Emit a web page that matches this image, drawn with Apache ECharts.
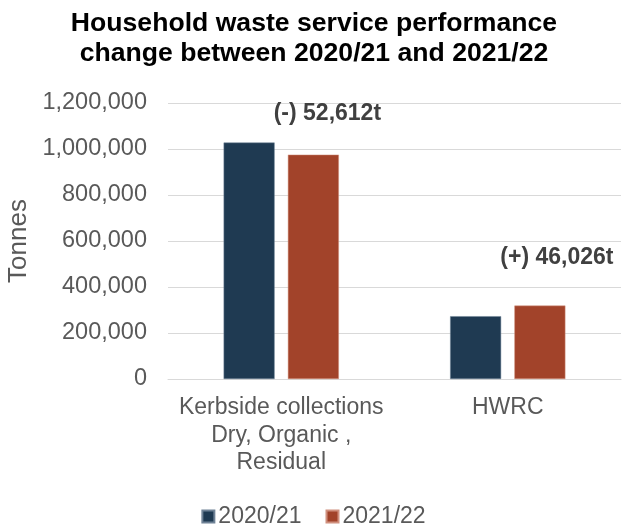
<!DOCTYPE html>
<html>
<head>
<meta charset="utf-8">
<script src="https://cdn.jsdelivr.net/npm/echarts@6/dist/echarts.min.js"></script>
<style>html,body{margin:0;padding:0;background:#fff;}#chart{width:627px;height:527px;}</style>
</head>
<body>
<div id="chart"></div>
<script>
const categories = ['Kerbside collections\nDry, Organic ,\nResidual', 'HWRC'];
const seriesNames = ['2020/21', '2021/22'];
const values2020 = [1028000, 273000];
const values2021 = [975388, 319026];
const changeLabels = ['(-) 52,612t', '(+) 46,026t'];
const yTicks = { min: 0, max: 1200000, interval: 200000 };

const FONT = '"Liberation Sans", Arial, sans-serif';
const labelOffsets = [[14, -25], [17, -31]];

const chart = echarts.init(document.getElementById('chart'));
chart.setOption({
  animation: false,
  textStyle: { fontFamily: FONT },
  title: {
    text: 'Household waste service performance\nchange between 2020/21 and 2021/22',
    left: 309,
    textAlign: 'center',
    top: 4,
    textStyle: { fontFamily: FONT, fontSize: 26.6, fontWeight: 'bold', color: '#000', lineHeight: 30 }
  },
  grid: { left: 168, right: 6, top: 103, bottom: 148, containLabel: false, outerBoundsMode: 'none' },
  legend: {
    data: seriesNames,
    left: 'center',
    top: 500,
    icon: 'rect',
    itemWidth: 12,
    itemHeight: 12,
    itemGap: 24,
    textStyle: { fontFamily: FONT, fontSize: 23, color: '#595959', padding: [0, 0, 0, -1] }
  },
  xAxis: {
    type: 'category',
    data: categories,
    axisLine: { lineStyle: { color: '#D9D9D9', width: 1 } },
    axisTick: { show: false },
    axisLabel: { fontFamily: FONT, fontSize: 23, color: '#595959', lineHeight: 27.5, margin: 15, interval: 0 }
  },
  yAxis: {
    type: 'value',
    min: yTicks.min,
    max: yTicks.max,
    interval: yTicks.interval,
    name: 'Tonnes',
    nameLocation: 'middle',
    nameGap: 136,
    nameTextStyle: { fontFamily: FONT, fontSize: 26, color: '#595959' },
    axisLine: { show: false },
    axisTick: { show: false },
    splitLine: { lineStyle: { color: '#D9D9D9', width: 1 } },
    axisLabel: {
      fontFamily: FONT, fontSize: 23.5, color: '#595959', margin: 21,
      formatter: v => v.toLocaleString('en-US')
    }
  },
  series: [
    {
      name: seriesNames[0],
      type: 'bar',
      data: values2020,
      barWidth: 51,
      barGap: '26%',
      itemStyle: { color: '#1F3A52', borderColor: '#6F8296', borderWidth: 0.5 }
    },
    {
      name: seriesNames[1],
      type: 'bar',
      data: values2021.map((v, i) => ({
        value: v,
        label: {
          show: true,
          position: 'top',
          offset: labelOffsets[i],
          formatter: changeLabels[i],
          fontFamily: FONT,
          fontSize: 23,
          fontWeight: 'bold',
          color: '#404040'
        }
      })),
      barWidth: 51,
      itemStyle: { color: '#A2432A', borderColor: '#D0907E', borderWidth: 0.5 }
    }
  ]
});
</script>
</body>
</html>
